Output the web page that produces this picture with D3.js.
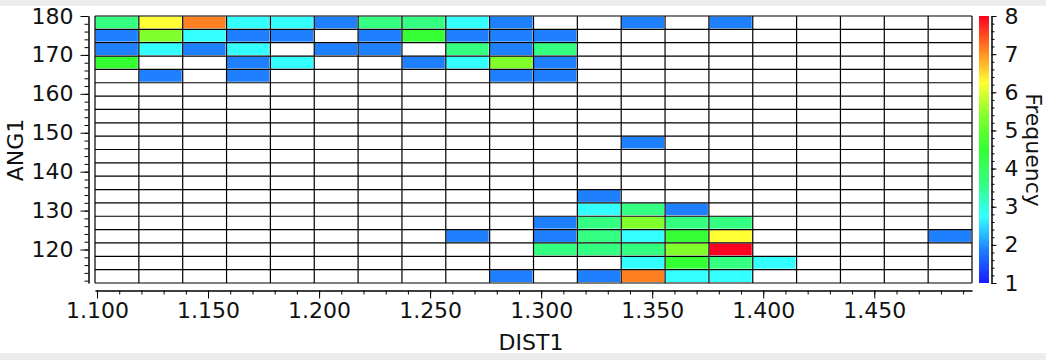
<!DOCTYPE html>
<html>
<head>
<meta charset="utf-8">
<script src="https://cdn.jsdelivr.net/npm/d3@7"></script>
<style>
  body { margin: 0; background: #fff; }
  svg { display: block; }
  svg text { font-family: 'DejaVu Sans', sans-serif; font-size: 22px; fill: #111; }
  .axis path, .axis line { stroke: #000; }
</style>
</head>
<body>
<svg id="chart" width="1046" height="360"></svg>
<script>
// histogram bin ranges (DIST1 across, ANG1 down)
const distRange = [1.0991, 1.4940];
const angRange = [111.4, 180.0];
const nDistBins = 20;
const nAngBins = 20;

// frequency per cell, one row per ANG1 bin, from the top (180) downwards
const freqRows = [
  [3,6,7,2,2,1,3,3,2,1,0,0,1,0,1,0,0,0,0,0],
  [1,5,2,1,1,0,1,4,1,1,1,0,0,0,0,0,0,0,0,0],
  [1,2,1,2,0,1,1,0,3,1,3,0,0,0,0,0,0,0,0,0],
  [4,0,0,1,2,0,0,1,2,5,1,0,0,0,0,0,0,0,0,0],
  [0,1,0,1,0,0,0,0,0,1,1,0,0,0,0,0,0,0,0,0],
  [0,0,0,0,0,0,0,0,0,0,0,0,0,0,0,0,0,0,0,0],
  [0,0,0,0,0,0,0,0,0,0,0,0,0,0,0,0,0,0,0,0],
  [0,0,0,0,0,0,0,0,0,0,0,0,0,0,0,0,0,0,0,0],
  [0,0,0,0,0,0,0,0,0,0,0,0,0,0,0,0,0,0,0,0],
  [0,0,0,0,0,0,0,0,0,0,0,0,1,0,0,0,0,0,0,0],
  [0,0,0,0,0,0,0,0,0,0,0,0,0,0,0,0,0,0,0,0],
  [0,0,0,0,0,0,0,0,0,0,0,0,0,0,0,0,0,0,0,0],
  [0,0,0,0,0,0,0,0,0,0,0,0,0,0,0,0,0,0,0,0],
  [0,0,0,0,0,0,0,0,0,0,0,1,0,0,0,0,0,0,0,0],
  [0,0,0,0,0,0,0,0,0,0,0,2,3,1,0,0,0,0,0,0],
  [0,0,0,0,0,0,0,0,0,0,1,3,5,3,3,0,0,0,0,0],
  [0,0,0,0,0,0,0,0,1,0,1,3,2,4,6,0,0,0,0,1],
  [0,0,0,0,0,0,0,0,0,0,3,3,3,5,8,0,0,0,0,0],
  [0,0,0,0,0,0,0,0,0,0,0,0,2,4,3,2,0,0,0,0],
  [0,0,0,0,0,0,0,0,0,1,0,1,7,2,2,0,0,0,0,0],
];

// tick labels
const distTicks = [1.10, 1.15, 1.20, 1.25, 1.30, 1.35, 1.40, 1.45];
const angTicks = [120, 130, 140, 150, 160, 170, 180];
const freqTicks = [1, 2, 3, 4, 5, 6, 7, 8];

// rainbow palette, first stop is the bottom of the colour bar
const freqColors = ['#1a1aff', '#1e80ff', '#33ffff', '#33ff80', '#33ff33',
                    '#80ff2a', '#ffff33', '#ff8020', '#ff0020'];

// layout
const plot = { left: 95, right: 972, top: 16, bottom: 283 };
const bar = { x: 979, width: 10 };

const svg = d3.select('#chart');

// grey window strips top and bottom
svg.append('rect').attr('x', 0).attr('y', 0).attr('width', 1046).attr('height', 6).attr('fill', '#ececec');
svg.append('rect').attr('x', 0).attr('y', 353).attr('width', 1046).attr('height', 7).attr('fill', '#ececec');

// scales
const xScale = d3.scaleLinear().domain(distRange).range([plot.left, plot.right]);
const yScale = d3.scaleLinear().domain(angRange).range([plot.bottom, plot.top]);
const cScale = d3.scaleLinear().domain([1, 8]).range([plot.bottom, plot.top]);
const cellColor = d3.scaleOrdinal().domain(freqTicks).range(freqColors.slice(1));

const dw = (distRange[1] - distRange[0]) / nDistBins;
const dh = (angRange[1] - angRange[0]) / nAngBins;

// flatten into cells
const cells = [];
freqRows.forEach((row, r) => {
  row.forEach((n, c) => {
    if (n > 0) cells.push({ r, c, n });
  });
});

const g = svg.append('g');
g.append('rect')
  .attr('x', plot.left).attr('y', plot.top)
  .attr('width', plot.right - plot.left).attr('height', plot.bottom - plot.top)
  .attr('fill', '#fff');

g.selectAll('.cell')
  .data(cells)
  .enter()
  .append('rect')
  .attr('class', 'cell')
  .attr('x', d => xScale(distRange[0] + d.c * dw) + 0.5)
  .attr('y', d => yScale(angRange[1] - d.r * dh) + 0.5)
  .attr('width', d => xScale(distRange[0] + (d.c + 1) * dw) - xScale(distRange[0] + d.c * dw) - 1.5)
  .attr('height', d => yScale(angRange[1] - (d.r + 1) * dh) - yScale(angRange[1] - d.r * dh) - 1.5)
  .attr('fill', d => cellColor(d.n));

// grid lines on the bin edges
const xEdges = d3.range(nDistBins + 1).map(i => distRange[0] + i * dw);
const yEdges = d3.range(nAngBins + 1).map(i => angRange[0] + i * dh);
g.selectAll('.vline')
  .data(xEdges)
  .enter()
  .append('line')
  .attr('x1', d => xScale(d)).attr('x2', d => xScale(d))
  .attr('y1', plot.top).attr('y2', plot.bottom)
  .attr('stroke', '#000').attr('stroke-width', 1.2);
g.selectAll('.hline')
  .data(yEdges)
  .enter()
  .append('line')
  .attr('y1', d => yScale(d)).attr('y2', d => yScale(d))
  .attr('x1', plot.left).attr('x2', plot.right)
  .attr('stroke', '#000').attr('stroke-width', 1.2);

// x axis, detached below the grid
const xAxisY = 290.5;
svg.append('g')
  .attr('class', 'axis')
  .attr('transform', `translate(0,${xAxisY})`)
  .call(d3.axisBottom(xScale).tickValues(d3.range(1.10, 1.495, 0.01)).tickSize(4).tickSizeOuter(0).tickFormat(''));
svg.append('g')
  .attr('class', 'axis')
  .attr('transform', `translate(0,${xAxisY})`)
  .call(d3.axisBottom(xScale).tickValues(distTicks).tickSize(8).tickSizeOuter(0).tickPadding(4).tickFormat(d3.format('.3f')));

// y axis, detached left of the grid
const yAxisX = 88.5;
svg.append('g')
  .attr('class', 'axis')
  .attr('transform', `translate(${yAxisX},0)`)
  .call(d3.axisLeft(yScale).tickValues(d3.range(112, 180.1, 2)).tickSize(4).tickSizeOuter(0).tickFormat(''));
svg.append('g')
  .attr('class', 'axis')
  .attr('transform', `translate(${yAxisX},0)`)
  .call(d3.axisLeft(yScale).tickValues(angTicks).tickSize(8).tickSizeOuter(0).tickPadding(7));

// colour bar
const grad = svg.append('defs').append('linearGradient')
  .attr('id', 'freq-grad')
  .attr('x1', 0).attr('y1', 1).attr('x2', 0).attr('y2', 0);
grad.selectAll('stop')
  .data(freqColors)
  .enter()
  .append('stop')
  .attr('offset', (d, i) => i / (freqColors.length - 1))
  .attr('stop-color', d => d);
svg.append('rect')
  .attr('x', bar.x).attr('y', cScale(8))
  .attr('width', bar.width).attr('height', cScale(1) - cScale(8))
  .attr('fill', 'url(#freq-grad)');

const cAxisX = 991.5;
svg.append('g')
  .attr('class', 'axis')
  .attr('transform', `translate(${cAxisX},0)`)
  .call(d3.axisRight(cScale).tickValues(d3.range(1, 8.01, 0.2)).tickSize(3).tickSizeOuter(0).tickFormat(''));
svg.append('g')
  .attr('class', 'axis')
  .attr('transform', `translate(${cAxisX},0)`)
  .call(d3.axisRight(cScale).tickValues(freqTicks).tickSize(5).tickSizeOuter(0).tickPadding(8).tickFormat(d3.format('d')));

// titles
svg.append('text')
  .attr('x', 531).attr('y', 350)
  .attr('text-anchor', 'middle')
  .text('DIST1');
svg.append('text')
  .attr('transform', 'translate(23,150) rotate(-90)')
  .attr('text-anchor', 'middle')
  .text('ANG1');
svg.append('text')
  .attr('transform', 'translate(1026,150) rotate(90)')
  .attr('text-anchor', 'middle')
  .text('Frequency');
</script>
</body>
</html>
